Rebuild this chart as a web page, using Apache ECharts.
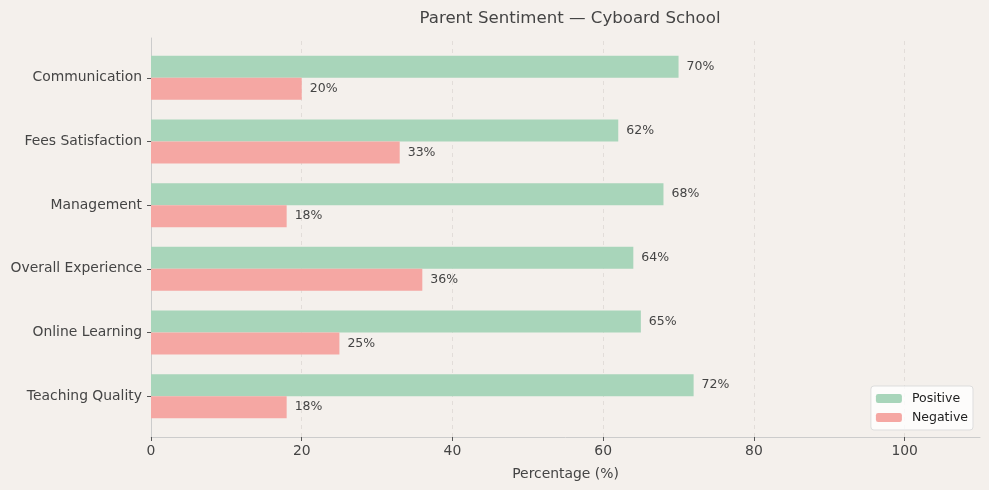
<!DOCTYPE html>
<html>
<head>
<meta charset="utf-8">
<script src="https://cdn.jsdelivr.net/npm/echarts@6/dist/echarts.min.js"></script>
<style>
  html, body { margin: 0; padding: 0; background: #f4f0ec; }
  #main { width: 989px; height: 490px; }
</style>
</head>
<body>
<div id="main"></div>
<script>
const categories = ['Communication', 'Fees Satisfaction', 'Management', 'Overall Experience', 'Online Learning', 'Teaching Quality'];
const positive = [70, 62, 68, 64, 65, 72];
const negative = [20, 33, 18, 36, 25, 18];
const xTicks = [0, 20, 40, 60, 80, 100];
const gridLines = [20, 40, 60, 80, 100];

const font = 'DejaVu Sans';
const textColor = '#444';

const chart = echarts.init(document.getElementById('main'));

const labelStyle = {
  show: true,
  position: 'right',
  distance: 8,
  formatter: (p) => p.value + '%',
  color: textColor,
  fontSize: 12.5,
  fontFamily: font,
};

const option = {
  backgroundColor: '#f4f0ec',
  animation: false,
  title: {
    text: 'Parent Sentiment — Cyboard School',
    left: 565,
    textAlign: 'center',
    top: 5,
    textStyle: { color: textColor, fontSize: 16.6, fontWeight: 'normal', fontFamily: font },
  },
  legend: {
    right: 16,
    bottom: 60,
    orient: 'vertical',
    itemWidth: 26,
    itemHeight: 9,
    itemGap: 6,
    padding: [6, 5, 6, 5],
    backgroundColor: 'rgba(255,255,255,0.8)',
    borderColor: '#ddd',
    borderWidth: 1,
    borderRadius: 3,
    textStyle: { color: '#222', fontSize: 12.5, fontFamily: font, padding: [0, 0, 0, 5] },
    data: ['Positive', 'Negative'],
  },
  grid: [
    // frame: spines, ticks, gridlines
    { left: 151, right: 9, top: 38, bottom: 53 },
    // bars
    { left: 151, right: 9, top: 46, bottom: 62 },
  ],
  xAxis: [
    {
      gridIndex: 0,
      type: 'value',
      min: 0,
      max: 110,
      interval: 20,
      name: 'Percentage (%)',
      nameLocation: 'middle',
      nameGap: 30,
      nameTextStyle: { color: textColor, fontSize: 13.9, fontFamily: font },
      axisLine: { show: true, lineStyle: { color: '#ccc', width: 1 } },
      axisTick: { show: true, length: 4, customValues: xTicks, lineStyle: { color: '#555' } },
      axisLabel: {
        color: textColor, fontSize: 13.9, fontFamily: font, margin: 7,
        customValues: xTicks,
      },
      splitLine: { show: false },
    },
    {
      gridIndex: 1,
      type: 'value',
      min: 0,
      max: 110,
      show: false,
    },
  ],
  yAxis: [
    {
      gridIndex: 0,
      type: 'value',
      min: 0,
      max: 1,
      axisLine: { show: true, lineStyle: { color: '#ccc', width: 1 } },
      axisTick: { show: false },
      axisLabel: { show: false },
      splitLine: { show: false },
    },
    {
      gridIndex: 1,
      type: 'category',
      inverse: true,
      data: categories,
      axisLine: { show: false },
      axisTick: { show: true, alignWithLabel: true, length: 4, lineStyle: { color: '#555' } },
      axisLabel: { color: textColor, fontSize: 13.9, fontFamily: font, margin: 9 },
      splitLine: { show: false },
    },
  ],
  series: [
    {
      // dashed vertical gridlines across the full frame
      type: 'scatter',
      xAxisIndex: 0,
      yAxisIndex: 0,
      data: [],
      silent: true,
      z: 0,
      markLine: {
        silent: true,
        z: 0,
        symbol: 'none',
        label: { show: false },
        lineStyle: { color: '#e2ddd9', type: [4, 4], width: 1 },
        data: gridLines.map((v) => ({ xAxis: v })),
      },
    },
    {
      name: 'Positive',
      type: 'bar',
      xAxisIndex: 1,
      yAxisIndex: 1,
      data: positive,
      barWidth: 22,
      barGap: '0%',
      z: 2,
      itemStyle: { color: '#a8d5ba' },
      label: labelStyle,
    },
    {
      name: 'Negative',
      type: 'bar',
      xAxisIndex: 1,
      yAxisIndex: 1,
      data: negative,
      barWidth: 22,
      barGap: '0%',
      z: 2,
      itemStyle: { color: '#f5a7a3' },
      label: labelStyle,
    },
  ],
};

chart.setOption(option);
</script>
</body>
</html>
